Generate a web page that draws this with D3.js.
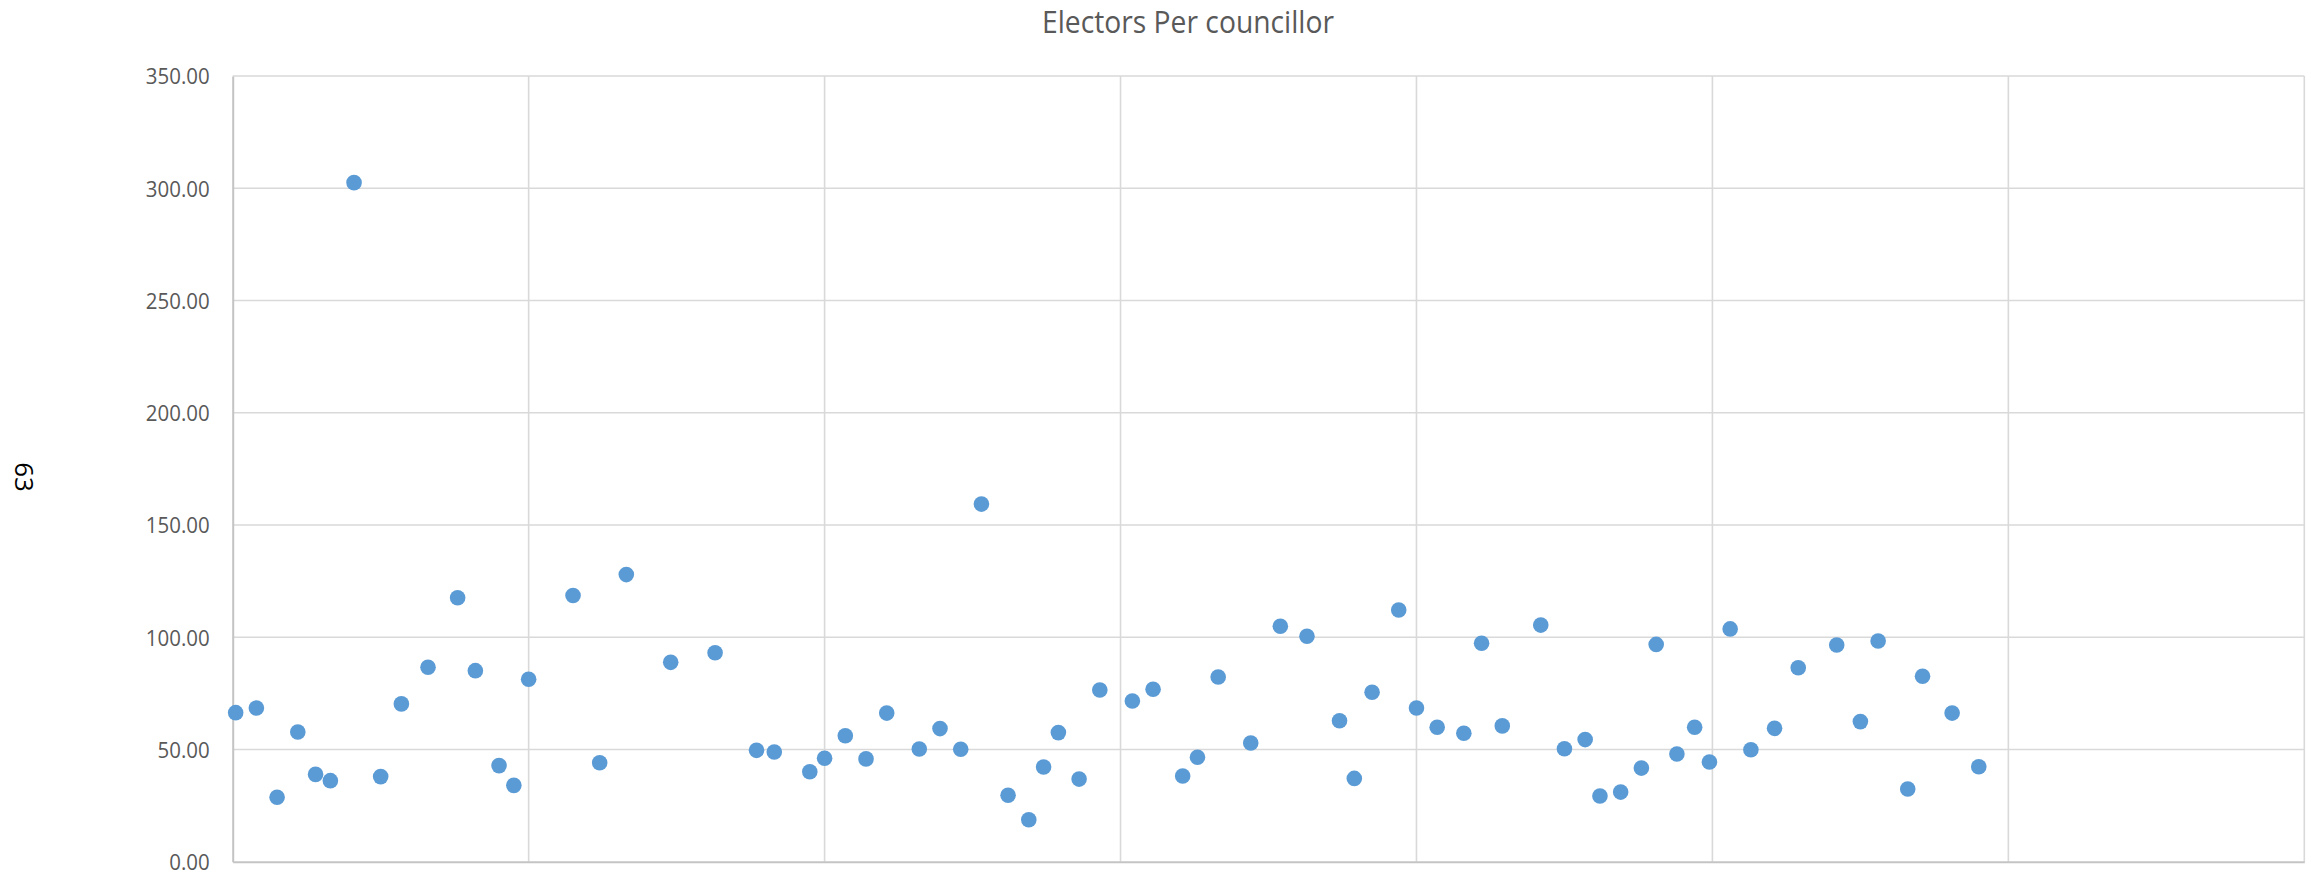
<!DOCTYPE html>
<html>
<head>
<meta charset="utf-8">
<script src="https://cdn.jsdelivr.net/npm/d3@7"></script>
<style>
  html, body { margin: 0; padding: 0; background: #ffffff; }
  svg { display: block; }
  text { font-family: "Open Sans", "Noto Sans", sans-serif; }
</style>
</head>
<body>
<svg id="chart" width="2313" height="872"></svg>
<script>
// Chart text
const chartTitle = "Electors Per councillor";
const yAxisTitle = "63";

// X position of each point on the horizontal axis
const seriesX = [
  0.1, 0.8, 1.5, 2.2, 2.8, 3.3, 4.1, 5.0, 5.7, 6.6,
  7.6, 8.2, 9.0, 9.5, 10.0, 11.5, 12.4, 13.3, 14.8, 16.3,
  17.7, 18.3, 19.5, 20.0, 20.7, 21.4, 22.1, 23.2, 23.9, 24.6,
  25.3, 26.2, 26.9, 27.4, 27.9, 28.6, 29.3, 30.4, 31.1, 32.1,
  32.6, 33.3, 34.4, 35.4, 36.3, 37.4, 37.9, 38.5, 39.4, 40.0,
  40.7, 41.6, 42.2, 42.9, 44.2, 45.0, 45.7, 46.2, 46.9, 47.6,
  48.1, 48.8, 49.4, 49.9, 50.6, 51.3, 52.1, 52.9, 54.2, 55.0,
  55.6, 56.6, 57.1, 58.1, 59.0
];

// Electors per councillor
const seriesY = [
  66.4, 68.5, 28.7, 57.8, 38.9, 36.1, 302.5, 37.9, 70.3, 86.6,
  117.6, 85.1, 42.8, 34.0, 81.3, 118.6, 44.1, 127.9, 88.8, 93.1,
  49.6, 48.9, 40.1, 46.1, 56.1, 45.8, 66.2, 50.2, 59.3, 50.1,
  159.3, 29.6, 18.7, 42.2, 57.5, 36.8, 76.5, 71.6, 76.8, 38.2,
  46.5, 82.3, 52.9, 104.9, 100.4, 62.8, 37.1, 75.5, 112.1, 68.5,
  59.9, 57.2, 97.3, 60.5, 105.4, 50.3, 54.4, 29.3, 31.0, 41.7,
  96.8, 48.0, 59.9, 44.4, 103.7, 49.9, 59.4, 86.4, 96.5, 62.4,
  98.3, 32.4, 82.6, 66.2, 42.3
];

// Axis ticks
const xTicks = [0, 10, 20, 30, 40, 50, 60, 70];
const yTicks = [0, 50, 100, 150, 200, 250, 300, 350];

const plot = { left: 232.7, right: 2304.3, top: 76, bottom: 861.7 };

const svg = d3.select("#chart");

const x = d3.scaleLinear().domain([0, 70]).range([plot.left, plot.right]);
const y = d3.scaleLinear().domain([0, 350]).range([plot.bottom, plot.top]);

// Horizontal gridlines
svg.append("g")
  .selectAll("line")
  .data(yTicks.filter(d => d !== 0))
  .join("line")
  .attr("x1", plot.left).attr("x2", plot.right)
  .attr("y1", d => y(d)).attr("y2", d => y(d))
  .attr("stroke", "#d9d9d9").attr("stroke-width", 1.6);

// Vertical gridlines
svg.append("g")
  .selectAll("line")
  .data(xTicks.filter(d => d !== 0))
  .join("line")
  .attr("x1", d => x(d)).attr("x2", d => x(d))
  .attr("y1", plot.top).attr("y2", plot.bottom)
  .attr("stroke", "#d9d9d9").attr("stroke-width", 1.6);

// Value axis (left) with labels, no ticks
const yAxis = d3.axisLeft(y)
  .tickValues(yTicks)
  .tickFormat(d3.format(".2f"))
  .tickSize(0)
  .tickPadding(23);

const gy = svg.append("g")
  .attr("transform", `translate(${plot.left},0)`)
  .call(yAxis);
gy.select(".domain").attr("stroke", "#c4c4c4").attr("stroke-width", 2);
gy.selectAll("text")
  .attr("fill", "#595959")
  .style("font-size", "22px")
  .attr("dy", "0.36em");
gy.selectAll("text").each(function () {
  const len = this.getComputedTextLength();
  d3.select(this).attr("textLength", len * 0.93).attr("lengthAdjust", "spacingAndGlyphs");
});

// Category axis line (bottom), no labels
const xAxis = d3.axisBottom(x).tickValues([]).tickSize(0);
const gx = svg.append("g")
  .attr("transform", `translate(0,${plot.bottom})`)
  .call(xAxis);
gx.select(".domain").attr("stroke", "#c4c4c4").attr("stroke-width", 2);

// Points
svg.append("g")
  .selectAll("circle")
  .data(seriesY.map((v, i) => ({ x: seriesX[i], y: v })))
  .join("circle")
  .attr("cx", d => x(d.x))
  .attr("cy", d => y(d.y))
  .attr("r", 7.8)
  .attr("fill", "#5b9bd5");

// Title
const title = svg.append("text")
  .attr("x", 1188)
  .attr("y", 33)
  .attr("text-anchor", "middle")
  .attr("fill", "#595959")
  .style("font-size", "31px")
  .style("font-weight", 400)
  .text(chartTitle);
title.attr("textLength", 292).attr("lengthAdjust", "spacingAndGlyphs");

// Vertical axis title, rotated to read downward
svg.append("text")
  .attr("transform", "translate(15,477) rotate(90)")
  .attr("text-anchor", "middle")
  .attr("fill", "#000000")
  .style("font-size", "26px")
  .text(yAxisTitle);
</script>
</body>
</html>
